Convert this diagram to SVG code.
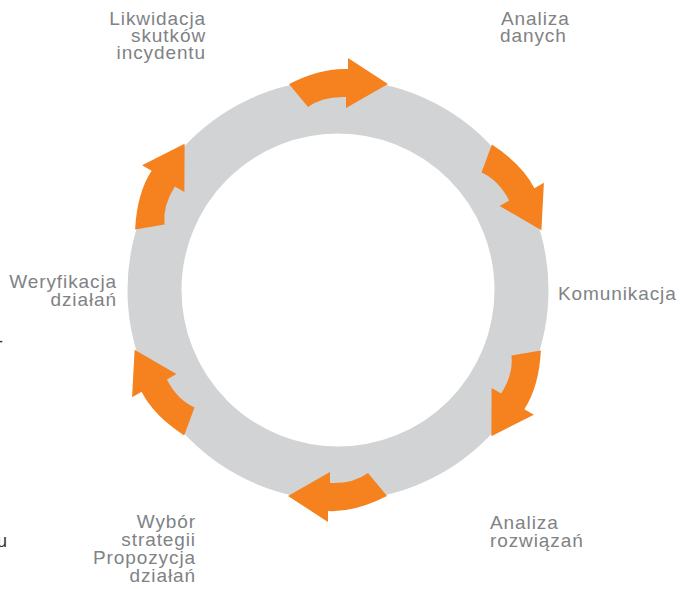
<svg xmlns="http://www.w3.org/2000/svg" xmlns:xlink="http://www.w3.org/1999/xlink" width="680" height="589" viewBox="0 0 680 589">
<style>
.lbl{font-family:"Liberation Sans",Arial,sans-serif;font-size:19px;letter-spacing:0.9px;fill:#808285}
.r{text-anchor:end}
.arr{fill:#f5821f}
.stray{font-family:"Liberation Sans",Arial,sans-serif;font-size:18px;fill:#333}
</style>
<defs>
<path id="arrow" d="M289,84 Q321.5,67.5 348,69 L348,58 L388,84 L346,108 L346,97 Q323,96 308,107 Z"/>
</defs>
<rect width="680" height="589" fill="#fff"/>
<g id="ring">
<circle cx="338" cy="290" r="183.5" fill="none" stroke="#d1d3d4" stroke-width="54"/>
</g>
<g id="connectors" class="arr">
<use xlink:href="#arrow"/>
<use xlink:href="#arrow" transform="rotate(60 338 290)"/>
<use xlink:href="#arrow" transform="rotate(120 338 290)"/>
<use xlink:href="#arrow" transform="rotate(180 338 290)"/>
<use xlink:href="#arrow" transform="rotate(240 338 290)"/>
<use xlink:href="#arrow" transform="rotate(300 338 290)"/>
</g>
<g id="node-likwidacja" class="lbl r">
<text x="206" y="25">Likwidacja</text>
<text x="206" y="42">skutków</text>
<text x="206" y="59">incydentu</text>
</g>
<g id="node-analiza-danych" class="lbl">
<text x="501" y="25">Analiza</text>
<text x="500" y="42">danych</text>
</g>
<g id="node-komunikacja" class="lbl">
<text x="558" y="300">Komunikacja</text>
</g>
<g id="node-analiza-rozwiazan" class="lbl">
<text x="490" y="529">Analiza</text>
<text x="490" y="547">rozwiązań</text>
</g>
<g id="node-wybor" class="lbl r">
<text x="196" y="528">Wybór</text>
<text x="196" y="546">strategii</text>
<text x="196" y="564">Propozycja</text>
<text x="196" y="582">działań</text>
</g>
<g id="node-weryfikacja" class="lbl r">
<text x="117" y="288">Weryfikacja</text>
<text x="117" y="306">działań</text>
</g>
<g id="stray">
<text class="stray" x="-3" y="347">-</text>
<text class="stray" x="-3" y="547">u</text>
</g>
</svg>
